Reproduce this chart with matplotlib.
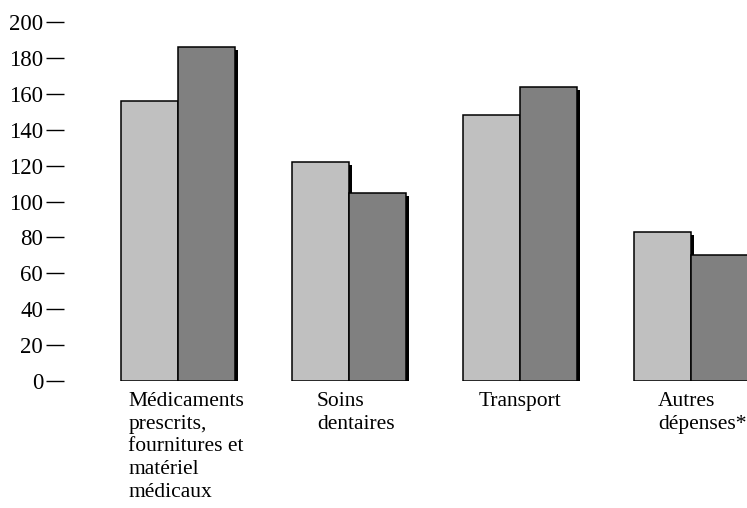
import matplotlib
matplotlib.use("Agg")
import matplotlib.pyplot as plt
import matplotlib.patheffects as pe
import numpy as np

categories = [
    "Médicaments\nprescrits,\nfournitures et\nmatériel\nmédicaux",
    "Soins\ndentaires",
    "Transport",
    "Autres\ndépenses*",
]
series_light = [156, 122, 148, 83]
series_dark = [186, 105, 164, 70]
y_ticks = [0, 20, 40, 60, 80, 100, 120, 140, 160, 180, 200]

plt.rcParams["font.family"] = ["Liberation Serif", "DejaVu Serif"]

W, H = 747, 508
fig = plt.figure(figsize=(W / 100, H / 100), dpi=100)
ax = fig.add_axes([64 / W, 1 - 381 / H, (W - 64) / W, (381 - 22) / H])

x = np.arange(len(categories))
bw = 1 / 3
shadow = [pe.SimplePatchShadow(offset=(2.2, -2.2), shadow_rgbFace="black", alpha=1.0), pe.Normal()]

for xi, v in zip(x, series_light):
    b = ax.bar(xi - bw / 2, v, width=bw, color="#c0c0c0", edgecolor="black", linewidth=1.1, zorder=2)
    b[0].set_path_effects(shadow)
for xi, v in zip(x, series_dark):
    b = ax.bar(xi + bw / 2, v, width=bw, color="#808080", edgecolor="black", linewidth=1.1, zorder=3)
    b[0].set_path_effects(shadow)

ax.set_xlim(-0.6667, 3.3275)
ax.set_ylim(0, 200)
ax.set_yticks(y_ticks)
ax.set_yticklabels([str(t) for t in y_ticks], fontsize=16.5)
ax.tick_params(axis="y", direction="out", length=13, width=1.0, pad=2)
ax.set_xticks([])
for s in ax.spines.values():
    s.set_visible(False)

# small horizontal nudges so each label block sits under its pair of bars
label_dx = [0.048, 0.04, 0.0, 0.065]
for xi, lab, dx in zip(x, categories, label_dx):
    ax.text(xi + dx, -6, lab, ha="center", va="top", ma="left",
            fontsize=15.5, linespacing=1.27, clip_on=False)

fig.savefig("out.png", dpi=100)
